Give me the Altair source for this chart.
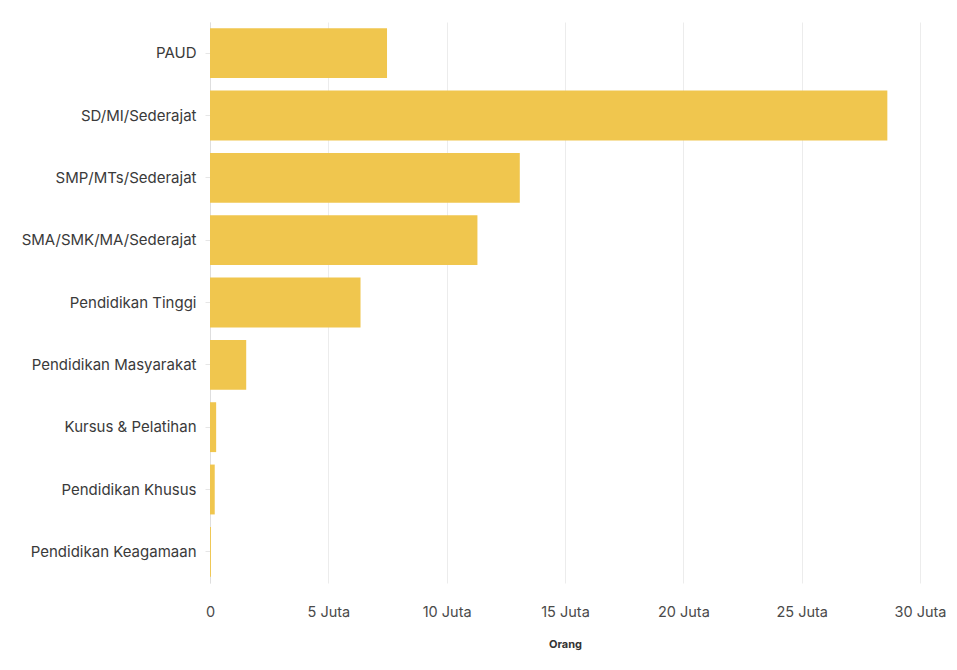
import altair as alt
import pandas as pd

categories = [
    "PAUD",
    "SD/MI/Sederajat",
    "SMP/MTs/Sederajat",
    "SMA/SMK/MA/Sederajat",
    "Pendidikan Tinggi",
    "Pendidikan Masyarakat",
    "Kursus & Pelatihan",
    "Pendidikan Khusus",
    "Pendidikan Keagamaan",
]
values = [7480000, 28620000, 13090000, 11300000, 6360000, 1530000, 260000, 200000, 40000]
tick_values = [0, 5000000, 10000000, 15000000, 20000000, 25000000, 30000000]

df = pd.DataFrame({"kategori": categories, "orang": values})

font = "Inter"

chart = (
    alt.Chart(df)
    .mark_bar(color="#F0C64E")
    .encode(
        y=alt.Y(
            "kategori:N",
            sort=categories,
            title=None,
            scale=alt.Scale(paddingInner=0.2, paddingOuter=0.1),
            axis=alt.Axis(
                labelFont=font,
                labelFontSize=15,
                labelColor="#3a3a3a",
                labelPadding=9,
                tickSize=5,
                tickColor="#e6e6e6",
                domainColor="#dedede",
                grid=False,
            ),
        ),
        x=alt.X(
            "orang:Q",
            title="Orang",
            scale=alt.Scale(domain=[0, 30000000], nice=False),
            axis=alt.Axis(
                values=tick_values,
                labelExpr="datum.value == 0 ? '0' : (datum.value / 1000000) + ' Juta'",
                labelFont=font,
                labelFontSize=14.5,
                labelColor="#4a4a4a",
                labelPadding=22,
                labelFlush=False,
                labelOverlap=False,
                ticks=False,
                domain=False,
                grid=True,
                gridColor="#ececec",
                titleFont=font,
                titleFontSize=11,
                titleFontWeight="bold",
                titleColor="#333333",
                titlePadding=20,
            ),
        ),
    )
    .properties(
        width=710,
        height=561,
        background="white",
        autosize=alt.AutoSizeParams(type="none"),
        padding={"left": 202, "top": 14, "right": 28, "bottom": 70},
    )
    .configure_view(strokeWidth=0, stroke="transparent")
)

chart.save("out.html", embed_options={"renderer": "svg", "actions": False})
